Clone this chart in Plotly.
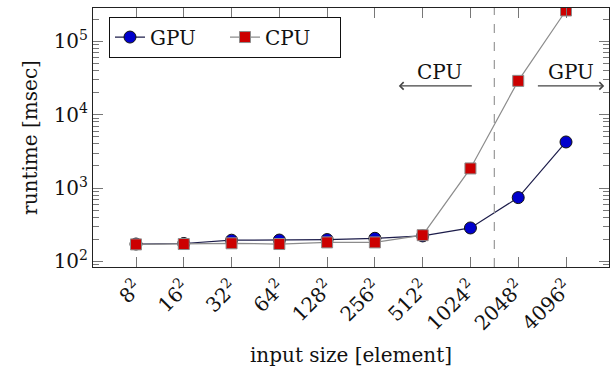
import plotly.graph_objects as go

# ---- data ----
sizes = ["8", "16", "32", "64", "128", "256", "512", "1024", "2048", "4096"]
positions = list(range(1, len(sizes) + 1))
tick_labels = [f"{s}<sup>2</sup>" for s in sizes]
gpu_ms = [172, 175, 194, 195, 198, 206, 222, 285, 740, 4250]
cpu_ms = [170, 172, 176, 172, 181, 181, 227, 1850, 29000, 265000]
y_tickvals = [100, 1000, 10000, 100000]
y_ticktext = ["10<sup>2</sup>", "10<sup>3</sup>", "10<sup>4</sup>", "10<sup>5</sup>"]
crossover = 8.5

FONT = "DejaVu Serif"
FS = 20
X_RANGE = [0.1, 10.9]
Y_RANGE = [1.922, 5.457]
TICK_COLOR = "#777777"

fig = go.Figure()
fig.add_trace(go.Scatter(
    x=positions, y=gpu_ms, name="GPU", mode="lines+markers",
    line=dict(color="#1c1c4a", width=1.2),
    marker=dict(symbol="circle", size=12, color="#0000cc",
                line=dict(color="#111111", width=1)),
))
fig.add_trace(go.Scatter(
    x=positions, y=cpu_ms, name="CPU", mode="lines+markers",
    line=dict(color="#8c8c8c", width=1.2),
    marker=dict(symbol="square", size=11, color="#cc0000",
                line=dict(color="#8c8c8c", width=1)),
))

fig.add_shape(type="line", xref="x", yref="paper", x0=crossover, x1=crossover,
              y0=0, y1=1, line=dict(color="#999999", width=1.2, dash="dash"))

# region annotations
fig.add_annotation(x=6.5, y=4.394, ax=8.06, ay=4.394, xref="x", yref="y",
                   axref="x", ayref="y", text="", showarrow=True,
                   arrowhead=4, arrowsize=1.2, arrowwidth=1.2, arrowcolor="#444444")
fig.add_annotation(x=10.8, y=4.394, ax=9.38, ay=4.394, xref="x", yref="y",
                   axref="x", ayref="y", text="", showarrow=True,
                   arrowhead=4, arrowsize=1.2, arrowwidth=1.2, arrowcolor="#444444")
fig.add_annotation(x=7.35, y=4.585, xref="x", yref="y", text="CPU", showarrow=False,
                   font=dict(family=FONT, size=FS, color="#111111"))
fig.add_annotation(x=10.1, y=4.585, xref="x", yref="y", text="GPU", showarrow=False,
                   font=dict(family=FONT, size=FS, color="#111111"))

fig.update_layout(
    width=610, height=367,
    margin=dict(l=93, r=1, t=8, b=100, autoexpand=False),
    paper_bgcolor="white", plot_bgcolor="white",
    font=dict(family=FONT, size=FS, color="#111111"),
    showlegend=True,
    legend=dict(orientation="h", x=0.031, y=0.967, xanchor="left", yanchor="top",
                bordercolor="#111111", borderwidth=1, bgcolor="white",
                font=dict(family=FONT, size=FS), entrywidth=70,
                tracegroupgap=0),
)
fig.update_xaxes(
    range=X_RANGE, tickvals=positions, ticktext=tick_labels, tickangle=-45,
    ticks="inside", ticklen=10, tickcolor=TICK_COLOR,
    showline=True, linecolor="#222222", linewidth=1, mirror="ticks",
    gridcolor="white", zeroline=False,
    title=dict(text="input size [element]", font=dict(family=FONT, size=FS), standoff=30),
)
fig.update_yaxes(
    type="log", range=Y_RANGE, tickvals=y_tickvals, ticktext=y_ticktext,
    ticks="inside", ticklen=10, tickcolor=TICK_COLOR,
    minor=dict(ticks="inside", ticklen=6, tickcolor=TICK_COLOR, dtick="D1",
               gridcolor="white"),
    showline=True, linecolor="#222222", linewidth=1, mirror="ticks",
    gridcolor="white", zeroline=False,
    title=dict(text="runtime [msec]", font=dict(family=FONT, size=FS), standoff=10),
)

fig.write_html("out.html")
